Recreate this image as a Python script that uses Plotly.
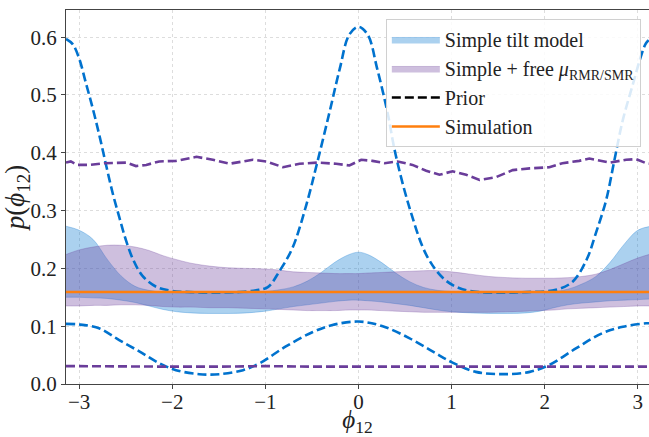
import plotly.graph_objects as go
import numpy as np

PI = np.pi

# ---- band data (90% credible regions) ----
phi_band = [-3.1416, -3.0, -2.85, -2.7, -2.55, -2.4, -2.25, -2.1, -1.95, -1.8, -1.6, -1.4, -1.2, -1.0,
            -0.85, -0.7, -0.55, -0.4, -0.25, -0.1, 0.0, 0.1, 0.25, 0.4, 0.55, 0.7, 0.85, 1.0, 1.2,
            1.4, 1.6, 1.8, 1.95, 2.1, 2.25, 2.4, 2.55, 2.7, 2.85, 3.0, 3.1416]

tilt_hi = [0.273, 0.266, 0.250, 0.216, 0.187, 0.169, 0.162, 0.159, 0.158, 0.157, 0.157, 0.157, 0.158, 0.160,
           0.163, 0.168, 0.178, 0.193, 0.211, 0.224, 0.228, 0.224, 0.210, 0.192, 0.177, 0.167, 0.162, 0.160, 0.158,
           0.157, 0.157, 0.158, 0.159, 0.160, 0.164, 0.173, 0.186, 0.210, 0.241, 0.266, 0.273]
tilt_lo = [0.150, 0.150, 0.149, 0.148, 0.145, 0.141, 0.135, 0.129, 0.125, 0.123, 0.122, 0.122, 0.123, 0.126,
           0.130, 0.134, 0.137, 0.140, 0.143, 0.145, 0.145, 0.144, 0.142, 0.139, 0.136, 0.132, 0.128, 0.125, 0.123,
           0.122, 0.122, 0.123, 0.126, 0.132, 0.137, 0.140, 0.142, 0.144, 0.145, 0.146, 0.147]

free_hi = [0.224, 0.232, 0.237, 0.240, 0.240, 0.237, 0.231, 0.222, 0.215, 0.209, 0.204, 0.201, 0.200, 0.199,
           0.197, 0.194, 0.193, 0.192, 0.191, 0.191, 0.191, 0.192, 0.193, 0.194, 0.195, 0.196, 0.196, 0.194, 0.190,
           0.186, 0.184, 0.183, 0.183, 0.183, 0.184, 0.186, 0.190, 0.198, 0.208, 0.218, 0.225]
free_lo = [0.135, 0.135, 0.136, 0.136, 0.137, 0.137, 0.136, 0.134, 0.133, 0.133, 0.132, 0.132, 0.131, 0.130,
           0.129, 0.128, 0.127, 0.127, 0.127, 0.128, 0.128, 0.128, 0.127, 0.126, 0.125, 0.124, 0.124, 0.124, 0.124,
           0.124, 0.125, 0.126, 0.127, 0.128, 0.130, 0.131, 0.132, 0.133, 0.134, 0.135, 0.135]

# ---- prior bounds ----
phi_tilt_prior_hi = [-3.1416, -3.07, -3.0, -2.93, -2.85, -2.78, -2.71, -2.64, -2.57, -2.50, -2.42, -2.32, -2.17,
                     -2.0, -1.8, -1.57, -1.3, -1.1, -0.97, -0.85, -0.71, -0.56, -0.44, -0.31, -0.20, -0.10, 0.0,
                     0.10, 0.20, 0.31, 0.40, 0.55, 0.73, 0.91, 1.08, 1.3, 1.57, 1.8, 2.12, 2.30, 2.45, 2.55,
                     2.66, 2.75, 2.84, 2.95, 3.04, 3.09, 3.1416]
tilt_prior_hi = [0.597, 0.588, 0.563, 0.522, 0.474, 0.428, 0.378, 0.330, 0.289, 0.250, 0.215, 0.187, 0.168,
                 0.161, 0.159, 0.158, 0.159, 0.162, 0.168, 0.195, 0.235, 0.310, 0.385, 0.471, 0.546, 0.604, 0.618,
                 0.604, 0.546, 0.471, 0.396, 0.304, 0.223, 0.183, 0.166, 0.159, 0.158, 0.159, 0.163, 0.177, 0.215, 0.261,
                 0.318, 0.388, 0.457, 0.520, 0.570, 0.590, 0.598]

phi_tilt_prior_lo = [-3.1416, -3.0, -2.78, -2.57, -2.35, -2.14, -1.96, -1.71, -1.49, -1.24, -1.06, -0.78, -0.49,
                     -0.28, 0.0, 0.26, 0.55, 0.80, 1.01, 1.26, 1.55, 1.84, 2.05, 2.34, 2.62, 2.84, 3.09, 3.1416]
tilt_prior_lo = [0.104, 0.103, 0.096, 0.076, 0.056, 0.036, 0.024, 0.017, 0.017, 0.024, 0.036, 0.065, 0.090,
                 0.102, 0.108, 0.100, 0.079, 0.056, 0.037, 0.021, 0.017, 0.021, 0.033, 0.062, 0.088, 0.099, 0.105, 0.105]

phi_free_prior_hi = [-3.1416, -3.09, -3.02, -2.89, -2.73, -2.585, -2.495, -2.39, -2.28, -2.14, -1.96, -1.74, -1.565,
                     -1.385, -1.135, -0.99, -0.81, -0.634, -0.437, -0.24, -0.097, 0.03, 0.15, 0.28, 0.42, 0.58, 0.727,
                     0.87, 1.01, 1.157, 1.30, 1.48, 1.657, 1.84, 2.05, 2.19, 2.37, 2.48, 2.70, 2.875, 2.98, 3.09, 3.1416]
free_prior_hi = [0.383, 0.385, 0.379, 0.379, 0.382, 0.383, 0.383, 0.377, 0.379, 0.385, 0.386, 0.393, 0.388,
                 0.381, 0.388, 0.385, 0.375, 0.381, 0.383, 0.381, 0.378, 0.388, 0.386, 0.382, 0.385, 0.379, 0.369,
                 0.362, 0.368, 0.362, 0.353, 0.358, 0.370, 0.373, 0.375, 0.382, 0.386, 0.390, 0.383, 0.388, 0.389, 0.382, 0.381]

phi_free_prior_lo = [-3.1416, -2.5, -2.0, -1.5, -1.0, -0.5, 0.0, 0.5, 1.0, 1.5, 2.0, 2.5, 3.1416]
free_prior_lo = [0.031, 0.030, 0.030, 0.030, 0.031, 0.030, 0.030, 0.030, 0.031, 0.031, 0.030, 0.031, 0.030]

# ---- simulation truth ----
sim_phi = [-3.1416, 3.1416]
sim_val = [1 / (2 * PI), 1 / (2 * PI)]

x_ticks = [-3, -2, -1, 0, 1, 2, 3]
y_ticks = [0.0, 0.1, 0.2, 0.3, 0.4, 0.5, 0.6]

BLUE = "rgb(0,114,206)"
PURPLE = "rgb(106,61,154)"
BLUE_FILL = "rgba(0,114,206,0.33)"
PURPLE_FILL = "rgba(106,61,154,0.33)"
ORANGE = "rgb(255,127,14)"
DASH = "9px,4px"
FONT = "Liberation Serif"

fig = go.Figure()

# bands
fig.add_trace(go.Scatter(x=phi_band, y=tilt_lo, mode="lines",
                         line=dict(width=0.8, shape="spline", color="rgba(0,114,206,0.35)"),
                         showlegend=False, hoverinfo="skip"))
fig.add_trace(go.Scatter(x=phi_band, y=tilt_hi, mode="lines",
                         line=dict(width=0.8, shape="spline", color="rgba(0,114,206,0.35)"),
                         fill="tonexty", fillcolor=BLUE_FILL, name="Simple tilt model", legendrank=1))
fig.add_trace(go.Scatter(x=phi_band, y=free_lo, mode="lines",
                         line=dict(width=0.8, shape="spline", color="rgba(106,61,154,0.35)"),
                         showlegend=False, hoverinfo="skip"))
fig.add_trace(go.Scatter(x=phi_band, y=free_hi, mode="lines",
                         line=dict(width=0.8, shape="spline", color="rgba(106,61,154,0.35)"),
                         fill="tonexty", fillcolor=PURPLE_FILL,
                         name="Simple + free <i>μ</i><sub>RMR/SMR</sub>", legendrank=2))

# priors
for xs, ys, c, shp in [(phi_tilt_prior_hi, tilt_prior_hi, BLUE, "spline"),
                       (phi_tilt_prior_lo, tilt_prior_lo, BLUE, "spline"),
                       (phi_free_prior_hi, free_prior_hi, PURPLE, "linear"),
                       (phi_free_prior_lo, free_prior_lo, PURPLE, "linear")]:
    fig.add_trace(go.Scatter(x=xs, y=ys, mode="lines", showlegend=False,
                             line=dict(color=c, width=2.6, dash=DASH, shape=shp)))

fig.add_trace(go.Scatter(x=[None], y=[None], mode="lines", name="Prior",
                         line=dict(color="black", width=2.6, dash=DASH), legendrank=3))
fig.add_trace(go.Scatter(x=sim_phi, y=sim_val, mode="lines", name="Simulation",
                         line=dict(color=ORANGE, width=2.6), legendrank=4))

fig.update_layout(
    width=649, height=437,
    margin=dict(l=66, r=0, t=10, b=53, autoexpand=False),
    plot_bgcolor="white", paper_bgcolor="white",
    font=dict(family=FONT, size=20, color="#222"),
    legend=dict(x=0.986, y=0.976, xanchor="right", yanchor="top", traceorder="normal",
                bgcolor="rgba(255,255,255,0.85)", bordercolor="#d0d0d0", borderwidth=1,
                font=dict(family=FONT, size=20, color="#222"), itemwidth=48,
                tracegroupgap=0),
)
fig.update_xaxes(
    range=[-3.1416, 3.1206], tickvals=x_ticks, ticks="outside", ticklen=4, tickcolor="#444",
    showline=True, linecolor="#444", linewidth=1, mirror=True, automargin=False,
    showgrid=True, gridcolor="#dddddd", griddash="dot", gridwidth=1, zeroline=False,
    ticklabelstandoff=-5,
    title=dict(text="<i>ϕ</i><sub>12</sub>", font=dict(size=25), standoff=2),
    tickfont=dict(size=21),
)
fig.update_yaxes(
    range=[0, 0.647], tickvals=y_ticks, tickformat=".1f", ticks="outside", ticklen=4, tickcolor="#444",
    showline=True, linecolor="#444", linewidth=1, mirror=False, automargin=False,
    showgrid=True, gridcolor="#dddddd", griddash="dot", gridwidth=1, zeroline=False,
    title=dict(text="<i>p</i>(<i>ϕ</i><sub>12</sub>)", font=dict(size=27), standoff=2),
    tickfont=dict(size=21),
)

fig.write_html("out.html", config={"displayModeBar": False},
               post_script="document.body.style.margin='0px';")
